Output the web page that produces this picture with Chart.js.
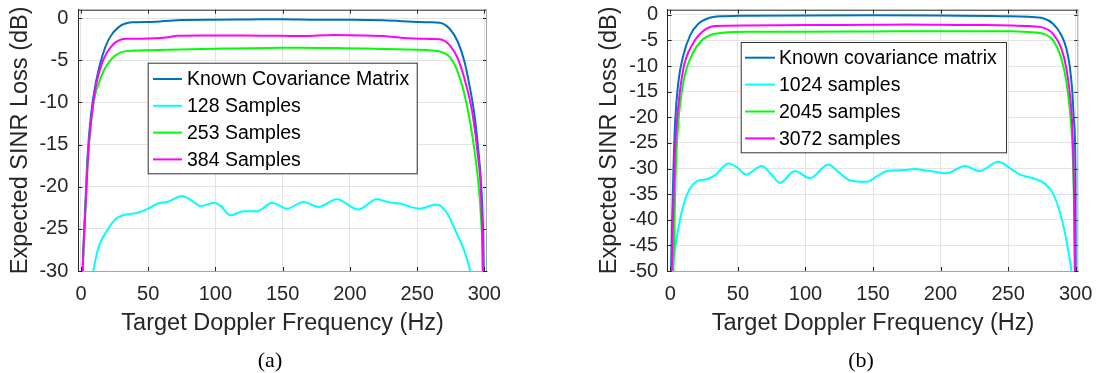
<!DOCTYPE html>
<html>
<head>
<meta charset="utf-8">
<script src="https://cdn.jsdelivr.net/npm/chart.js@4.4.1/dist/chart.umd.min.js"></script>
<style>
  body { margin: 0; background: #fff; width: 1100px; height: 373px; overflow: hidden; position: relative; }
  .panel { position: absolute; top: 0; }
  .cap { position: absolute; top: 349px; font: 22px "Liberation Serif", "Times New Roman", serif; line-height: 22px; color: #000; transform: translateX(-50%); }
</style>
</head>
<body>
<div class="panel" style="left:0"><canvas id="chartA" width="500" height="373"></canvas></div>
<div class="panel" style="left:590px"><canvas id="chartB" width="510" height="373"></canvas></div>
<div class="cap" style="left:270px">(a)</div>
<div class="cap" style="left:861px">(b)</div>
<script>
// tick values
const freqTicks = [0, 50, 100, 150, 200, 250, 300];
const lossTicksA = [-30, -25, -20, -15, -10, -5, 0];
const lossTicksB = [-50, -45, -40, -35, -30, -25, -20, -15, -10, -5, 0];

// legend labels and MATLAB line colours
const labelsA = ['Known Covariance Matrix', '128 Samples', '253 Samples', '384 Samples'];
const labelsB = ['Known covariance matrix', '1024 samples', '2045 samples', '3072 samples'];
const lineColors = ['#0072BD', '#00FFFF', '#00FF00', '#FF00FF'];

// (a) [Hz, dB]
const knownA = [[0.3,-36],[1.2,-30],[3.2,-22.2],[4.9,-16.3],[7.4,-11.5],[11.1,-7.6],[16,-4.4],[21,-2.4],[28,-1.07],[38,-0.5],
  [50,-0.45],[60,-0.38],[75,-0.22],[100,-0.18],[125,-0.15],[150,-0.12],[175,-0.18],[200,-0.18],[225,-0.25],[252,-0.47],
  [260,-0.5],[266.8,-0.55],[274.2,-1.26],[280.3,-2.8],[285.3,-5.2],[289,-8.0],[292.7,-11.5],[295.2,-15.1],[297.7,-19.8],
  [298.9,-24.2],[299.6,-30],[299.9,-36]];
const s128A = [[8,-31.5],[9.2,-30],[11,-28.5],[13.7,-26.9],[18.6,-25.4],[26,-23.8],[33.4,-23.3],[42,-23.1],[50,-22.6],
  [56.9,-22.0],[64.3,-21.8],[75.4,-21.1],[82,-21.6],[89,-22.3],[98.9,-21.9],[104,-22.3],[111.2,-23.4],[121.1,-22.9],
  [131,-22.9],[142.1,-21.9],[153.2,-22.6],[165.5,-21.8],[176.6,-22.4],[190.3,-21.5],[206.3,-22.7],[219.9,-21.5],
  [228,-21.8],[237.1,-22.0],[252,-22.6],[264.3,-22.1],[271.7,-23.0],[279.1,-25.4],[285.3,-27.7],[289.5,-30],[291,-31.5]];
const s253A = [[0.5,-36],[1.4,-30],[3.5,-22],[5,-17],[7.4,-12.5],[10,-9.5],[13.5,-7.6],[17,-6.2],[21,-5.2],[25,-4.5],
  [30.8,-4.0],[40,-3.85],[50,-3.8],[64,-3.75],[90,-3.65],[113,-3.6],[140,-3.55],[163,-3.5],[190,-3.55],[212,-3.6],
  [235,-3.7],[252,-3.75],[261,-3.85],[266.8,-3.95],[274.2,-4.6],[280.3,-6.4],[286.6,-10],[291.4,-14.3],[295.2,-19],
  [297.7,-24.2],[298.9,-30],[299.2,-36]];
const s384A = [[0.4,-36],[1.2,-30],[3.2,-23],[4.9,-17.5],[6.1,-14.5],[8,-11.5],[11.1,-8.0],[16,-5.2],[23.4,-3.2],
  [33.3,-2.44],[45,-2.44],[55,-2.4],[63,-2.3],[72,-2.1],[90,-2.05],[120,-2.05],[150,-2.1],[165,-2.13],[188,-2.0],
  [210,-2.05],[227,-2.15],[244,-2.4],[252,-2.44],[266.8,-2.5],[274.2,-3.2],[280.3,-4.8],[286.6,-8.0],[291.4,-11.5],
  [295.2,-16.3],[297.7,-21.4],[298.9,-30],[299.2,-36]];

// (b) [Hz, dB]
const knownB = [[0.2,-56],[0.5,-50],[1.3,-40],[2.2,-30.7],[3.5,-20.9],[5.9,-13.1],[9.6,-7.9],[14.6,-4.0],[20.7,-1.75],
  [28.1,-0.66],[38,-0.27],[50,-0.2],[100,-0.12],[150,-0.1],[200,-0.12],[251.4,-0.27],[265,-0.4],[275.9,-0.66],
  [283.3,-1.75],[289.5,-4.0],[293.2,-6.6],[295.6,-9.9],[297.6,-15.1],[298.8,-20.9],[299.9,-30.7],[300,-40],[300.1,-50],[300.2,-56]];
const s1024B = [[1,-53],[1.5,-50],[4.7,-43.6],[8.4,-38.4],[13.3,-34.5],[19.5,-32.5],[26.9,-32.1],[33.1,-31.3],[42.9,-29.0],
  [49.1,-29.7],[56,-31.2],[67.6,-29.5],[75,-31.2],[81.1,-32.8],[92.2,-30.5],[103.3,-31.9],[116.9,-29.2],[125,-30.8],
  [132.9,-32.3],[145.3,-32.6],[153,-31.5],[160.1,-30.5],[174.9,-30.3],[180,-30.1],[192.2,-30.5],[204.4,-30.9],
  [218,-29.5],[229,-30.5],[242.6,-28.7],[251.4,-29.9],[258.8,-31.2],[268.5,-31.9],[278.4,-33.2],[283.3,-34.9],
  [288.2,-38.4],[291.9,-42.3],[295.1,-46.9],[296.9,-50],[297.5,-52]];
const s2045B = [[1.5,-56],[2.2,-50],[4,-30],[5.9,-20.9],[9.6,-13.1],[15.8,-7.9],[23.2,-5.0],[33.1,-3.7],[55,-3.3],
  [100,-3.3],[150,-3.25],[200,-3.2],[230,-3.2],[251.4,-3.2],[265,-3.35],[275.9,-3.7],[283.3,-5.0],[289.5,-8.6],
  [293.2,-13.1],[295.6,-18.3],[297.6,-25.5],[298.8,-37.1],[299.4,-50],[299.6,-56]];
const s3072B = [[0.5,-56],[1,-50],[2.2,-37],[3.5,-26],[5.9,-17.7],[9.6,-10.5],[15.8,-6],[23.2,-3.4],[33.1,-2.2],[55,-2.1],
  [100,-2.0],[150,-1.95],[175,-1.9],[200,-1.95],[230,-2.0],[251.4,-2.08],[265,-2.2],[275.9,-2.5],[283.3,-3.7],
  [289.5,-6.6],[293.2,-10.5],[295.6,-15.1],[297.6,-22.2],[298.8,-33.9],[299.6,-50],[299.8,-56]];

Chart.defaults.font.family = '"Liberation Sans", Arial, sans-serif';

// box, inner tick marks and the MATLAB-style legend
const frame = {
  id: 'frame',
  afterDraw(chart, args, opts) {
    const {ctx, chartArea: a, scales: {x, y}} = chart;
    ctx.save();
    ctx.lineWidth = 1;
    ctx.strokeStyle = '#262626';
    ctx.beginPath();
    for (const v of freqTicks) {
      const px = Math.round(x.getPixelForValue(v)) + 0.5;
      ctx.moveTo(px, a.top); ctx.lineTo(px, a.top + 4);
      ctx.moveTo(px, a.bottom); ctx.lineTo(px, a.bottom - 4);
    }
    for (const t of y.ticks) {
      const py = Math.round(y.getPixelForValue(t.value)) + 0.5;
      ctx.moveTo(a.left, py); ctx.lineTo(a.left + 4, py);
      ctx.moveTo(a.right, py); ctx.lineTo(a.right - 4, py);
    }
    ctx.moveTo(a.left, a.top + 0.5); ctx.lineTo(a.right, a.top + 0.5);
    ctx.stroke();
    ctx.strokeStyle = '#a6a6a6';
    ctx.beginPath();
    ctx.moveTo(a.right - 0.5, a.top); ctx.lineTo(a.right - 0.5, a.bottom);
    ctx.stroke();

    const L = opts;
    ctx.fillStyle = '#fff';
    ctx.fillRect(L.left, L.top, L.width, L.height);
    ctx.strokeStyle = '#333';
    ctx.strokeRect(L.left + 0.5, L.top + 0.5, L.width, L.height);
    ctx.font = '19.5px "Liberation Sans", Arial, sans-serif';
    ctx.textBaseline = 'middle';
    ctx.fillStyle = '#000';
    chart.data.datasets.forEach((ds, i) => {
      const ry = L.row0 + i * L.rowGap;
      ctx.strokeStyle = ds.borderColor;
      ctx.lineWidth = 2;
      ctx.beginPath();
      ctx.moveTo(L.line0, ry); ctx.lineTo(L.line1, ry);
      ctx.stroke();
      ctx.fillText(ds.label, L.text, ry + 1);
    });
    ctx.restore();
  }
};

function makeChart(id, series, labels, yTicks, yMin, area, width, legendBox) {
  return new Chart(document.getElementById(id), {
    type: 'line',
    data: {
      datasets: series.map((pts, i) => ({
        label: labels[i],
        data: pts.map(p => ({x: p[0], y: p[1]})),
        borderColor: lineColors[i],
        borderWidth: 2,
        pointRadius: 0,
        cubicInterpolationMode: 'monotone',
        order: series.length - i,
      })),
    },
    options: {
      responsive: false,
      animation: false,
      devicePixelRatio: 1,
      events: [],
      layout: { padding: { left: 0, top: area.top, right: width - area.right, bottom: 0 } },
      plugins: {
        legend: { display: false },
        tooltip: { enabled: false },
        frame: legendBox,
      },
      scales: {
        x: {
          type: 'linear', min: -2, max: 302,
          afterBuildTicks: s => { s.ticks = freqTicks.map(v => ({value: v})); },
          afterFit: s => { s.height = 373 - area.bottom; s.paddingLeft = 0; s.paddingRight = 0; },
          grid: { color: '#e3e3e3', drawTicks: false },
          border: { color: '#a6a6a6' },
          ticks: { padding: 11.5, color: '#262626', font: { size: 20 }, maxRotation: 0, autoSkip: false },
          title: { display: true, text: 'Target Doppler Frequency (Hz)', color: '#262626',
            font: { size: 23.5 }, padding: { top: 0, bottom: 35 } },
        },
        y: {
          type: 'linear', min: yMin, max: 1,
          afterBuildTicks: s => { s.ticks = yTicks.map(v => ({value: v})); },
          afterFit: s => { s.width = area.left; s.paddingTop = 0; s.paddingBottom = 0; },
          grid: { color: '#e3e3e3', drawTicks: false },
          border: { color: '#262626' },
          ticks: { padding: area.tickPad, color: '#262626', font: { size: 20 }, autoSkip: false },
          title: { display: true, text: 'Expected SINR Loss (dB)', color: '#262626',
            font: { size: 23.5 }, padding: { top: area.titlePad, bottom: 0 } },
        },
      },
    },
    plugins: [frame],
  });
}

makeChart('chartA', [knownA, s128A, s253A, s384A], labelsA, lossTicksA, -30,
  { left: 78.3, right: 487, top: 9.7, bottom: 271, tickPad: 10, titlePad: 6 }, 500,
  { left: 147.7, top: 62.7, width: 269, height: 110.6, row0: 79, rowGap: 26.8, line0: 153, line1: 182, text: 187 });

makeChart('chartB', [knownB, s1024B, s2045B, s3072B], labelsB, lossTicksB, -50,
  { left: 77.7, right: 488.3, top: 9.7, bottom: 271, tickPad: 9.5, titlePad: 5 }, 510,
  { left: 150.7, top: 42, width: 265.3, height: 110.3, row0: 57.7, rowGap: 26.9, line0: 155, line1: 185, text: 189 });
</script>
</body>
</html>
